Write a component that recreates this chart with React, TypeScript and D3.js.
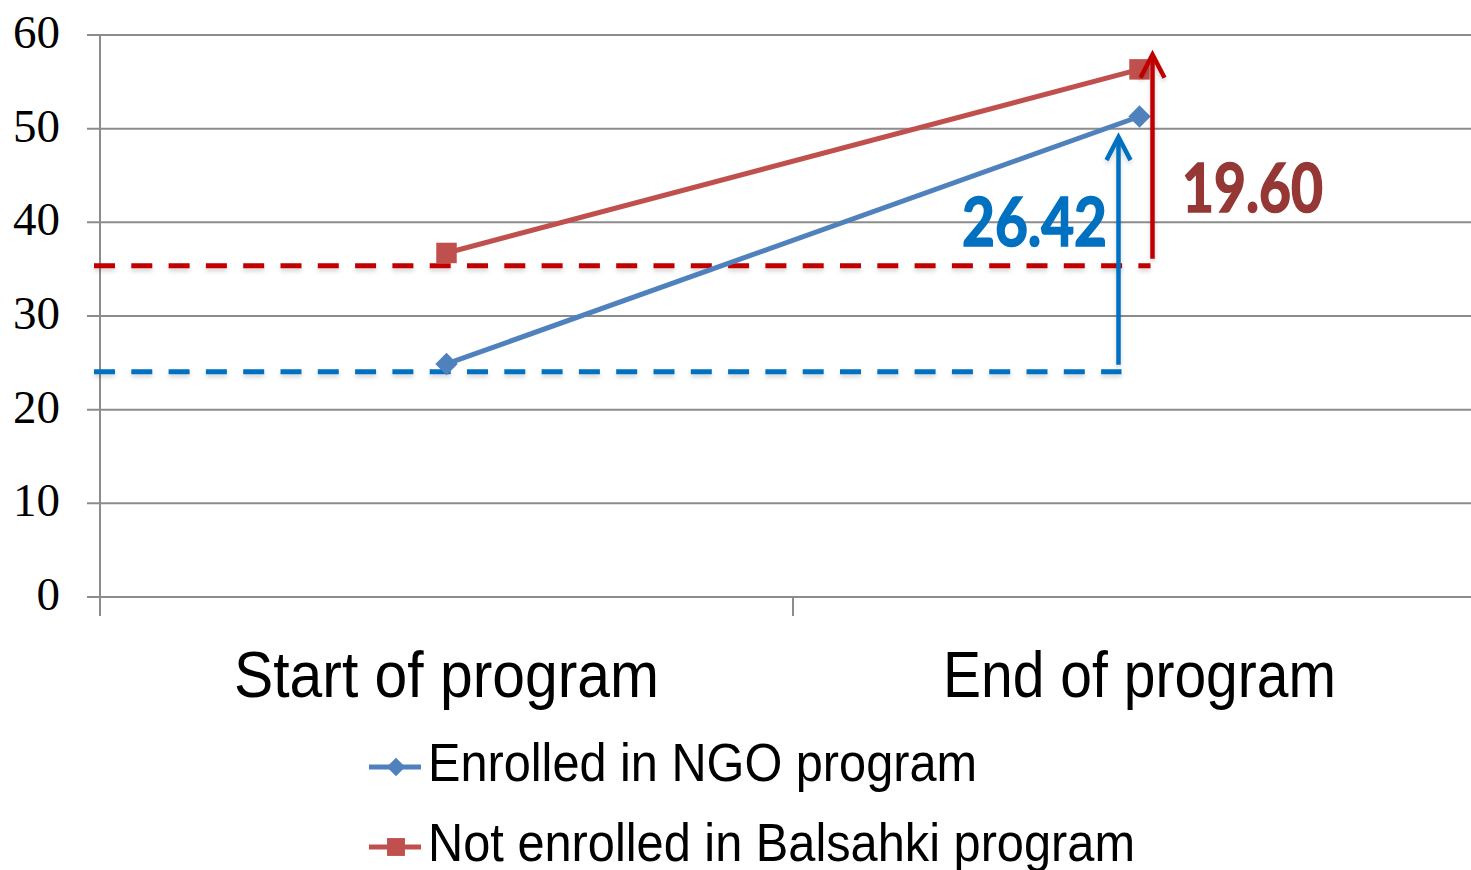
import React from "react";
import * as d3 from "d3";

// Two groups measured at the start and end of the program
const categories = ["Start of program", "End of program"];
const enrolled = [24.88, 51.3];
const notEnrolled = [36.73, 56.33];
const seriesNames = ["Enrolled in NGO program", "Not enrolled in Balsahki program"];
const yTicks = [0, 10, 20, 30, 40, 50, 60];

// Gain annotations: reference level, arrow tip and printed gain for each group
const baselineLevels = [24.05, 35.37];
const arrowTips = [49.1, 57.9];
const gainLabels = ["26.42", "19.60"];

const W = 1471;
const H = 870;

export default function App() {
  const y = d3.scaleLinear().domain([0, 60]).range([597, 35]);
  const x = d3.scaleBand<string>().domain(categories).range([100, 1486]);
  const cx = (c: string) => (x(c) as number) + x.bandwidth() / 2;

  const line = d3
    .line<number>()
    .x((_, i) => cx(categories[i]))
    .y((v) => y(v));

  const diamond = d3.symbol(d3.symbolSquare, 250)();
  const square = d3.symbol(d3.symbolSquare, 420)();
  const legendDiamond = d3.symbol(d3.symbolSquare, 170)();
  const legendSquare = d3.symbol(d3.symbolSquare, 320)();

  const blue = "#4F81BD";
  const red = "#C0504D";
  const dashBlue = "#0070C0";
  const dashRed = "#C00000";

  const endX = cx(categories[1]);
  const arrowX = [endX - 21, endX + 13];
  const dashEnd = [endX - 18, endX + 11];
  const arrowColors = [dashBlue, dashRed];

  const chevron = (ax: number, ay: number) =>
    `M${ax - 12},${ay + 23} L${ax},${ay} L${ax + 12},${ay + 23}`;

  return (
    <div style={{ position: "absolute", left: 0, top: 0, width: W, height: H, background: "#fff" }}>
      <svg width={W} height={H} style={{ display: "block" }}>
        <defs>
          <filter id="soft" filterUnits="userSpaceOnUse" x={0} y={0} width={W} height={H}>
            <feDropShadow dx="0" dy="3" stdDeviation="2" floodColor="#000" floodOpacity="0.16" />
          </filter>
        </defs>

        {/* horizontal gridlines with left tick marks */}
        {yTicks.map((t) => (
          <g key={t}>
            <line x1={87} x2={1486} y1={y(t)} y2={y(t)} stroke="#8c8c8c" strokeWidth={2} />
            <text
              x={60}
              y={y(t) + 13}
              textAnchor="end"
              fontFamily="'Liberation Serif', 'Times New Roman', serif"
              fontSize={47}
              fill="#000"
            >
              {t}
            </text>
          </g>
        ))}

        {/* vertical axis and category ticks */}
        <line x1={100} x2={100} y1={y(60)} y2={616} stroke="#8c8c8c" strokeWidth={2} />
        {[x(categories[1]) as number, 1486].map((tx, i) => (
          <line key={i} x1={tx} x2={tx} y1={y(0)} y2={616} stroke="#8c8c8c" strokeWidth={2} />
        ))}

        {/* category labels */}
        {categories.map((c, i) => (
          <text
            key={c}
            x={cx(c)}
            y={697}
            textAnchor="middle"
            fontFamily="'Liberation Sans', Arial, sans-serif"
            fontSize={64}
            textLength={i === 0 ? 425 : 393}
            lengthAdjust="spacingAndGlyphs"
            fill="#000"
          >
            {c}
          </text>
        ))}

        {/* dashed reference levels */}
        {baselineLevels.map((lv, i) => (
          <line
            key={i}
            x1={94}
            x2={dashEnd[i]}
            y1={y(lv)}
            y2={y(lv)}
            stroke={arrowColors[i]}
            strokeWidth={5}
            strokeDasharray="21 16.3"
            filter="url(#soft)"
          />
        ))}

        {/* series lines and markers */}
        <path d={line(notEnrolled) as string} fill="none" stroke={red} strokeWidth={5} />
        <path d={line(enrolled) as string} fill="none" stroke={blue} strokeWidth={5} />
        {enrolled.map((v, i) => (
          <path
            key={"e" + i}
            d={diamond as string}
            transform={`translate(${cx(categories[i])},${y(v)}) rotate(45)`}
            fill={blue}
          />
        ))}
        {notEnrolled.map((v, i) => (
          <path
            key={"n" + i}
            d={square as string}
            transform={`translate(${cx(categories[i])},${y(v)})`}
            fill={red}
          />
        ))}

        {/* gain arrows */}
        {baselineLevels.map((lv, i) => (
          <g key={"a" + i} filter="url(#soft)">
            <line
              x1={arrowX[i]}
              x2={arrowX[i]}
              y1={y(lv) - 7}
              y2={y(arrowTips[i]) + 2}
              stroke={arrowColors[i]}
              strokeWidth={4.5}
            />
            <path
              d={chevron(arrowX[i], y(arrowTips[i]))}
              fill="none"
              stroke={arrowColors[i]}
              strokeWidth={4.5}
            />
          </g>
        ))}

        {/* gain labels */}
        <text
          x={962}
          y={246}
          fontFamily="Lato, 'Open Sans', sans-serif"
          fontWeight={700}
          fontSize={66}
          textLength={145}
          lengthAdjust="spacingAndGlyphs"
          fill="#0070C0"
          stroke="#0070C0"
          strokeWidth={1.6}
        >
          {gainLabels[0]}
        </text>
        <text
          x={1182}
          y={212}
          fontFamily="Lato, 'Open Sans', sans-serif"
          fontWeight={700}
          fontSize={66}
          textLength={141}
          lengthAdjust="spacingAndGlyphs"
          fill="#953735"
          stroke="#953735"
          strokeWidth={1.6}
        >
          {gainLabels[1]}
        </text>

        {/* legend */}
        {seriesNames.map((name, i) => {
          const ly = 767 + i * 80;
          return (
            <g key={name}>
              <line x1={369} x2={421} y1={ly} y2={ly} stroke={i === 0 ? blue : red} strokeWidth={5} />
              <path
                d={(i === 0 ? legendDiamond : legendSquare) as string}
                transform={`translate(396,${ly})${i === 0 ? " rotate(45)" : ""}`}
                fill={i === 0 ? blue : red}
              />
              <text
                x={428}
                y={ly + 14}
                fontFamily="'Liberation Sans', Arial, sans-serif"
                fontSize={54}
                textLength={i === 0 ? 549 : 707}
                lengthAdjust="spacingAndGlyphs"
                fill="#000"
              >
                {name}
              </text>
            </g>
          );
        })}
      </svg>
    </div>
  );
}
